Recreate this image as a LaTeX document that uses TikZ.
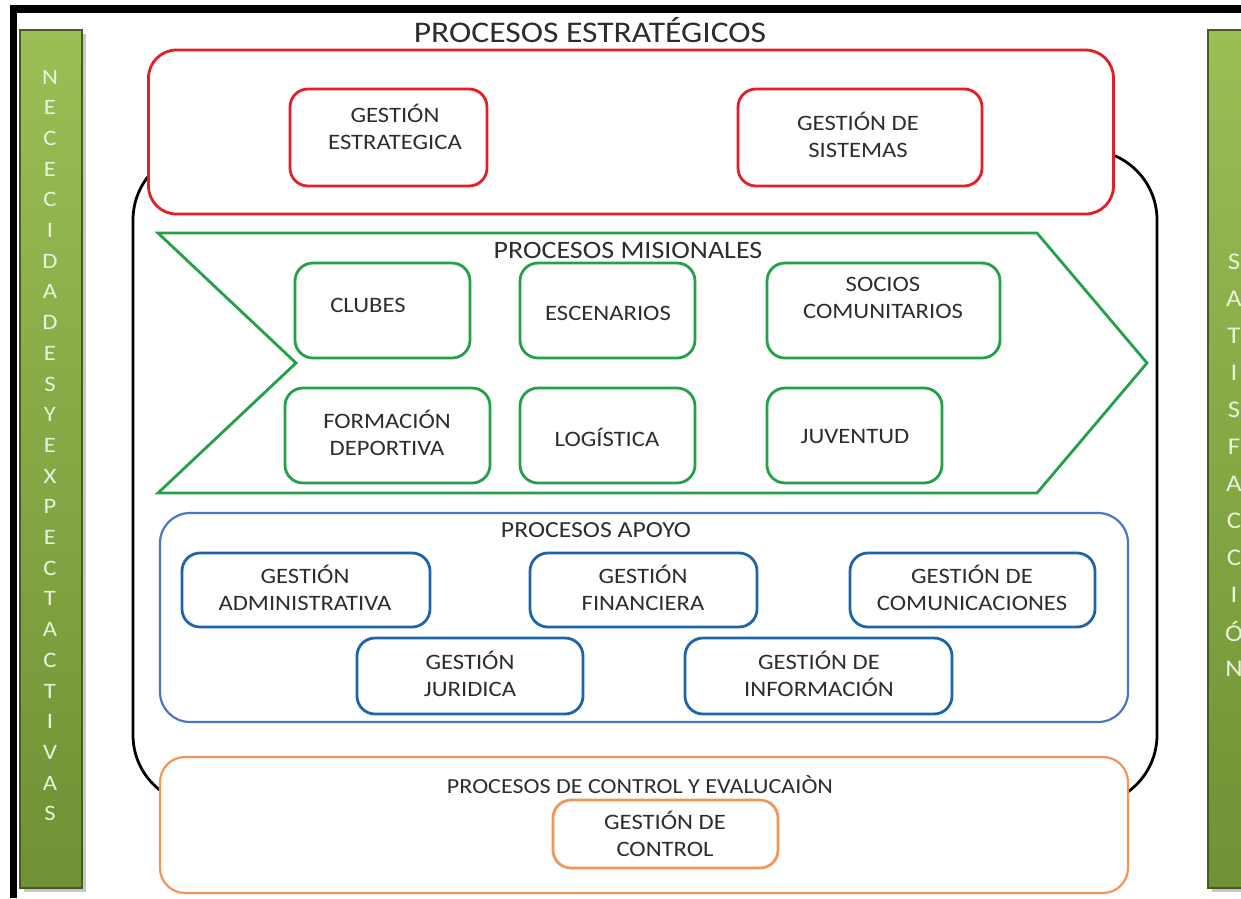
\documentclass[tikz,border=0pt]{standalone}
\usepackage{fontspec}
\setmainfont{Carlito}[FakeStretch=1.12]
\definecolor{pred}{RGB}{228,30,38}
\definecolor{pgreen}{RGB}{36,160,72}
\definecolor{pblue}{RGB}{30,100,170}
\definecolor{pblueout}{RGB}{75,118,196}
\definecolor{porange}{RGB}{242,150,85}
\definecolor{ptext}{RGB}{45,45,45}
\definecolor{bartop}{RGB}{155,190,85}
\definecolor{barbot}{RGB}{112,145,52}
\definecolor{barline}{RGB}{70,90,35}
\definecolor{barletter}{RGB}{235,242,220}
\tikzset{
  boxbase/.style={rectangle, rounded corners=18, inner sep=0pt, fill=white},
  rbox/.style={boxbase, draw=pred, line width=2.8},
  gbox/.style={boxbase, draw=pgreen, line width=2.8},
  bbox/.style={boxbase, draw=pblue, line width=2.8},
  obox/.style={boxbase, draw=porange, line width=2.8},
  btxt/.style={text=ptext, align=center, inner sep=0pt, font=\fontsize{22}{27}\selectfont},
  sectxt/.style={text=ptext, inner sep=0pt, font=\fontsize{25}{28}\selectfont},
  bar/.style={draw=barline, line width=1.2, top color=bartop, bottom color=barbot},
  barshadow/.style={fill=black!22},
  barltr/.style={text=barletter, inner sep=0pt, font=\fontsize{22}{24}\selectfont},
  barltrR/.style={text=barletter, inner sep=0pt, font=\fontsize{24}{26}\selectfont},
}
\begin{document}
\begin{tikzpicture}[x=1pt,y=-1pt]
\useasboundingbox (0,0) rectangle (1241,898);
\clip (0,0) rectangle (1241,898);
\fill[white] (0,0) rectangle (1241,898);
% frame
\fill[black] (10,5) rectangle (1241,13);
\fill[black] (10,5) rectangle (17,898);
% side bars
\fill[barshadow] (24,34) rectangle (86,892);
\path[bar] (20,30) rectangle (82,888);
\fill[barshadow] (1212,34) rectangle (1278,892);
\path[bar] (1208,30) rectangle (1274,888);
\foreach \l [count=\i from 0] in {N,E,C,E,C,I,D,A,D,E,S,Y,E,X,P,E,C,T,A,C,T,I,V,A,S}
  \node[barltr] (L\i) at (50,77+30.7*\i) {\l};
\foreach \l [count=\i from 0] in {S,A,T,I,S,F,A,C,C,I,Ó,N}
  \node[barltrR] (R\i) at (1234,262+37*\i) {\l};
% black outline
\draw[line width=2.8, rounded corners=70] (133,150) rectangle (1157,805);
% title
\node[text=ptext, inner sep=0pt, font=\fontsize{30}{32}\selectfont] (title) at (590,30) {PROCESOS ESTRATÉGICOS};
% strategic
\node[rbox, rounded corners=28, minimum width=965, minimum height=164] (estr) at (631,132) {};
\node[rbox, minimum width=197, minimum height=97] (ge) at (388.5,137.5) {};
\node[btxt] (tge) at (395,127) {GESTIÓN\\ESTRATEGICA};
\node[rbox, minimum width=244, minimum height=97] (gs) at (860,137.5) {};
\node[btxt] (tgs) at (858,135) {GESTIÓN DE\\SISTEMAS};
% misional arrow
\draw[pgreen, line width=2.8, fill=white, line join=miter]
  (158,233) coordinate (a1) -- (1037,233) coordinate (a2) -- (1147,363) coordinate (a3)
  -- (1037,493) coordinate (a4) -- (158,493) coordinate (a5) -- (296,363) coordinate (a6) -- cycle;
\node[sectxt] (mis) at (628,250) {PROCESOS MISIONALES};
\node[gbox, minimum width=175, minimum height=95] (clubes) at (382.5,310.5) {};
\node[btxt] (tclubes) at (368,305) {CLUBES};
\node[gbox, minimum width=175, minimum height=95] (esc) at (607.5,310.5) {};
\node[btxt] (tesc) at (608,313) {ESCENARIOS};
\node[gbox, minimum width=233, minimum height=95] (soc) at (883.5,310.5) {};
\node[btxt] (tsoc) at (883,298) {SOCIOS\\COMUNITARIOS};
\node[gbox, minimum width=205, minimum height=95] (form) at (387.5,435.5) {};
\node[btxt] (tform) at (387,433) {FORMACIÓN\\DEPORTIVA};
\node[gbox, minimum width=175, minimum height=95] (log) at (607.5,435.5) {};
\node[btxt] (tlog) at (607,437) {LOGÍSTICA};
\node[gbox, minimum width=175, minimum height=95] (juv) at (854.5,435.5) {};
\node[btxt] (tjuv) at (855,437) {JUVENTUD};
% apoyo
\node[boxbase, draw=pblueout, line width=2.2, rounded corners=30, minimum width=968, minimum height=209] (apoyo) at (644,617.5) {};
\node[sectxt, font=\fontsize{23}{28}\selectfont] (tapoyo) at (596,530) {PROCESOS APOYO};
\node[bbox, minimum width=248, minimum height=74] (adm) at (306,590) {};
\node[btxt] (tadm) at (305,588) {GESTIÓN\\ADMINISTRATIVA};
\node[bbox, minimum width=227, minimum height=74] (fin) at (643.5,590) {};
\node[btxt] (tfin) at (643,588) {GESTIÓN\\FINANCIERA};
\node[bbox, minimum width=245, minimum height=74] (com) at (972.5,590) {};
\node[btxt] (tcom) at (972,588) {GESTIÓN DE\\COMUNICACIONES};
\node[bbox, minimum width=226, minimum height=76] (jur) at (470,676) {};
\node[btxt] (tjur) at (470,674) {GESTIÓN\\JURIDICA};
\node[bbox, minimum width=267, minimum height=76] (inf) at (818.5,676) {};
\node[btxt] (tinf) at (819,674) {GESTIÓN DE\\INFORMACIÓN};
% control
\node[boxbase, draw=porange, line width=2.2, rounded corners=25, minimum width=968, minimum height=136] (ctrl) at (644,825) {};
\node[sectxt, font=\fontsize{21.5}{26}\selectfont] (tctrl) at (640,785) {PROCESOS DE CONTROL Y EVALUCAIÒN};
\node[obox, minimum width=225, minimum height=68] (gc) at (665.5,834) {};
\node[btxt] (tgc) at (665,834) {GESTIÓN DE\\CONTROL};
\end{tikzpicture}
\end{document}
